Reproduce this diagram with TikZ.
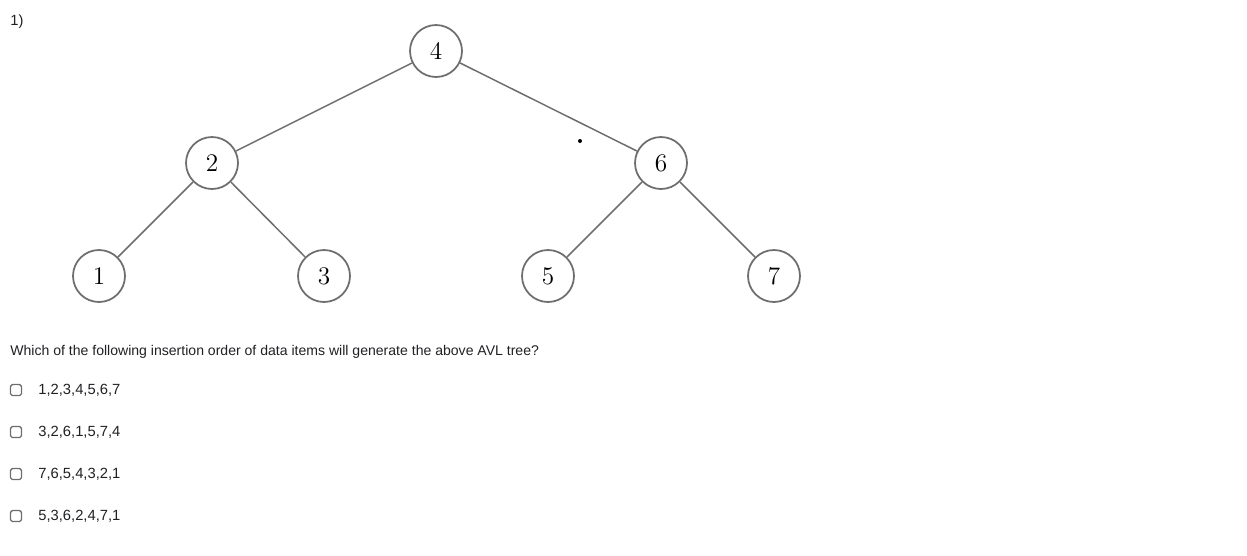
\documentclass[tikz,border=0pt]{standalone}
\usepackage{xcolor}
\usepackage{fontspec}
\usepackage{tikz}
\usetikzlibrary{positioning}
\newfontfamily\uifont{Liberation Sans}
\definecolor{edgegray}{HTML}{6E6E6E}
\definecolor{textgray}{HTML}{202124}

\begin{document}
\begin{tikzpicture}[x=0.02cm,y=-0.02cm,
    vertex/.style={circle,draw=edgegray,line width=1pt,minimum size=1.04cm,inner sep=0pt,font=\Large},
    branch/.style={draw=edgegray,line width=0.85pt},
    qtext/.style={anchor=west,inner sep=0pt,font=\uifont\fontsize{8}{10}\selectfont,text=textgray},
    opttext/.style={qtext,font=\uifont\fontsize{8.4}{10}\selectfont},
    tickbox/.style={draw=edgegray,line width=0.8pt,rounded corners=1pt,minimum size=0.22cm,inner sep=0pt}]
    \useasboundingbox (0,0) rectangle (1247,555);

    % Numero da questao
    \node[opttext] (num) at (10,22) {1)};

    % Nos da arvore
    \node[vertex] (n4) at (436,51) {4};
    \node[vertex] (n2) at (212,163) {2};
    \node[vertex] (n6) at (661,163) {6};
    \node[vertex] (n1) at (99,276) {1};
    \node[vertex] (n3) at (324,276) {3};
    \node[vertex] (n5) at (548,276) {5};
    \node[vertex] (n7) at (774,276) {7};

    % Arestas
    \draw[branch] (n4) -- (n2);
    \draw[branch] (n4) -- (n6);
    \draw[branch] (n2) -- (n1);
    \draw[branch] (n2) -- (n3);
    \draw[branch] (n6) -- (n5);
    \draw[branch] (n6) -- (n7);

    % Ponto solto
    \fill[black] (580,141) circle[radius=0.04cm];

    % Enunciado
    \node[qtext] (quest) at (10,352) {Which of the following insertion order of data items will generate the above AVL tree?};

    % Alternativas
    \foreach \y/\seq [count=\i] in {390/{1,2,3,4,5,6,7},432/{3,2,6,1,5,7,4},474/{7,6,5,4,3,2,1},516/{5,3,6,2,4,7,1}} {
        \node[tickbox] (box\i) at (16,\y) {};
        \node[opttext] (opt\i) at (38,\y) {\seq};
    }

\end{tikzpicture}
\end{document}
